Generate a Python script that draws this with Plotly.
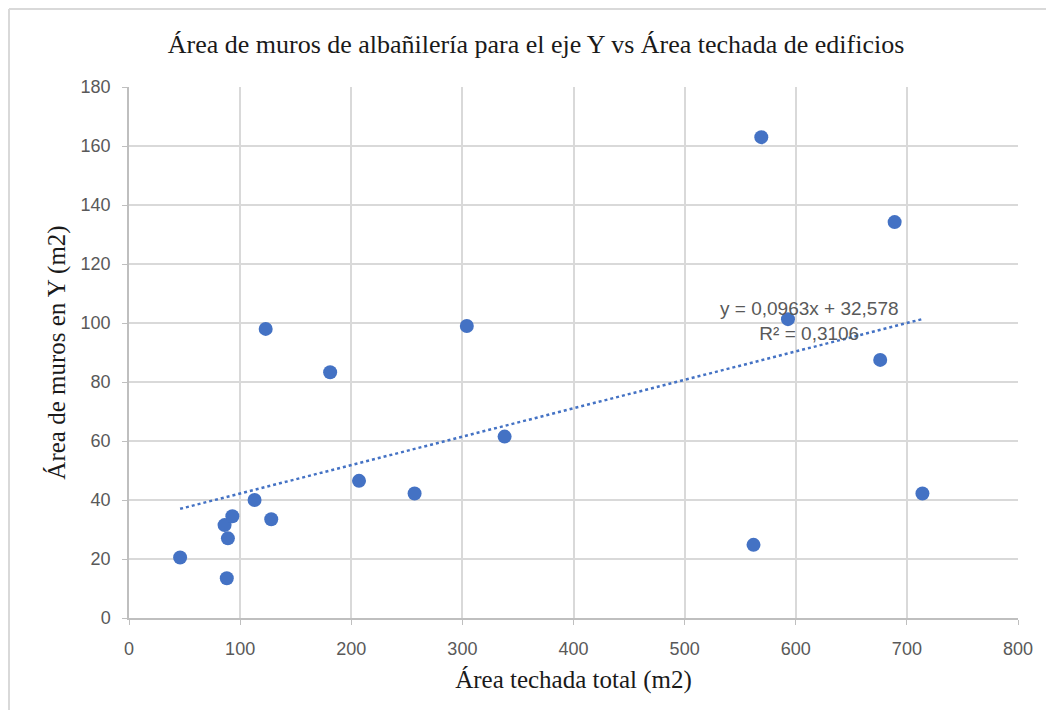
import plotly.graph_objects as go

area_techada = [46, 88, 86, 89, 93, 113, 128, 123, 181, 207, 257, 304, 338, 562, 569, 593, 676, 689, 714]
area_muros_y = [20.5, 13.5, 31.5, 27, 34.5, 40, 33.5, 98, 83.3, 46.5, 42.2, 99, 61.5, 24.8, 163, 101.3, 87.5, 134.2, 42.2]

slope = 0.0963
intercept = 32.578
r2 = 0.3106

blue = "#4472C4"

trend_x = [min(area_techada), max(area_techada)]
trend_y = [slope * v + intercept for v in trend_x]

fig = go.Figure()
fig.add_trace(go.Scatter(x=trend_x, y=trend_y, mode="lines",
                         line=dict(color=blue, width=2.5, dash="dot"),
                         showlegend=False, hoverinfo="skip"))
fig.add_trace(go.Scatter(x=area_techada, y=area_muros_y, mode="markers",
                         marker=dict(color=blue, size=14),
                         showlegend=False))

tick_font = dict(family="Liberation Sans, Arial, sans-serif", size=18, color="#595959")
serif = "Liberation Serif, Times New Roman, serif"

# page body has an 8px margin; figure sized to fit the 1054x718 window
W, H = 1038, 702
L, T = 121, 79
PW, PH = 889, 531

fig.update_layout(
    width=W, height=H,
    margin=dict(l=L, r=W - L - PW, t=T, b=H - T - PH, pad=0),
    plot_bgcolor="white", paper_bgcolor="white",
    title=dict(text="Área de muros de albañilería para el eje Y vs Área techada de edificios",
               x=(536 - 8) / W, xanchor="center", y=1 - 36 / H, yanchor="middle",
               font=dict(family=serif, size=26, color="#1a1a1a")),
    xaxis=dict(range=[0, 800], dtick=100, tick0=0,
               showgrid=True, gridcolor="#d9d9d9", gridwidth=1.5,
               showline=True, linecolor="#bfbfbf", linewidth=1.5,
               ticks="outside", ticklen=5, tickcolor="#bfbfbf",
               ticklabelstandoff=9,
               zeroline=False, tickfont=tick_font,
               title=dict(text="Área techada total (m2)", standoff=12,
                          font=dict(family=serif, size=25, color="#1a1a1a"))),
    yaxis=dict(range=[0, 180], dtick=20, tick0=0,
               showgrid=True, gridcolor="#d9d9d9", gridwidth=1.5,
               showline=True, linecolor="#bfbfbf", linewidth=1.5,
               ticks="outside", ticklen=5, tickcolor="#bfbfbf",
               ticklabelstandoff=8,
               zeroline=False, tickfont=tick_font,
               title=dict(text="Área de muros en Y (m2)", standoff=8,
                          font=dict(family=serif, size=25, color="#1a1a1a"))),
    annotations=[dict(
        x=612, y=100.7, xref="x", yref="y",
        text=f"y = {str(slope).replace('.', ',')}x + {str(intercept).replace('.', ',')}<br>R² = {str(r2).replace('.', ',')}",
        showarrow=False, align="center", xanchor="center", yanchor="middle",
        font=dict(family="Liberation Sans, Arial, sans-serif", size=19, color="#595959"))],
    shapes=[
        dict(type="line", xref="paper", yref="paper", x0=-(L - 1) / PW, x1=1.1,
             y0=(T + PH - 1) / PH, y1=(T + PH - 1) / PH, line=dict(color="#d9d9d9", width=2)),
        dict(type="line", xref="paper", yref="paper", x0=-(L - 1) / PW, x1=-(L - 1) / PW,
             y0=(T + PH - 1) / PH, y1=-0.3, line=dict(color="#d9d9d9", width=2)),
    ],
)

fig.write_html("out.html")
